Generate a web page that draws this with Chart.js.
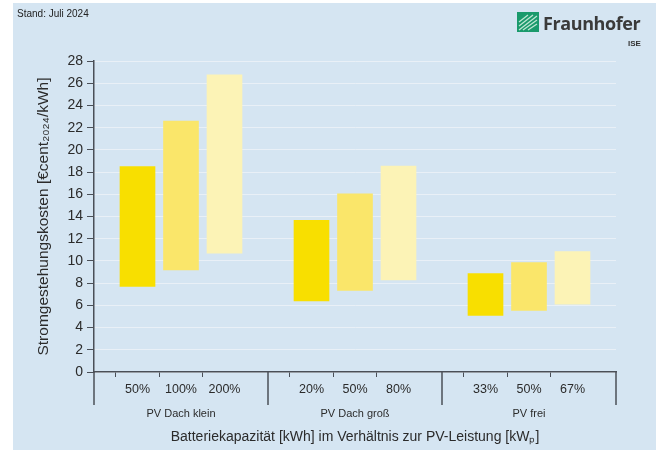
<!DOCTYPE html>
<html>
<head>
<meta charset="utf-8">
<script src="https://cdn.jsdelivr.net/npm/chart.js@4"></script>
<style>
  body { margin: 0; background: #fff; }
  #wrap { position: relative; width: 656px; height: 450px; font-family: "Liberation Sans", Arial, sans-serif; }
  #chart { display: block; }
  #stand { position: absolute; left: 17px; top: 8px; font-size: 10px; color: #222; }
  #logo { position: absolute; left: 517px; top: 12px; }
  #logo .name { position: absolute; left: 26px; top: -1px; font-size: 18px; font-weight: bold; color: #3a3a3a; font-family: "Open Sans", "Liberation Sans", sans-serif; letter-spacing: -0.4px; white-space: nowrap; }
  #logo .ise { position: absolute; left: 111px; top: 27px; font-size: 8px; font-weight: bold; color: #333; }
</style>
</head>
<body>
<div id="wrap">
  <canvas id="chart" width="656" height="450"></canvas>
  <div id="stand">Stand: Juli 2024</div>
  <div id="logo">
    <svg width="22" height="20" viewBox="0 0 22 20">
      <rect x="0" y="0" width="22" height="20" fill="#1a9a6c"/>
      <path d="M2 18 L20 4 M2 14 L16 3 M2 10 L11 3 M6 18 L20 8 M11 18 L20 12" stroke="#bfe6d3" stroke-width="1.3" fill="none"/>
    </svg>
    <span class="name">Fraunhofer</span>
    <span class="ise">ISE</span>
  </div>
</div>
<script>
// Gruppen und Batterie-Verhältnisse
const groups = ['PV Dach klein', 'PV Dach groß', 'PV frei'];
const shares = [
    ['50%', '100%', '200%'],
    ['20%', '50%', '80%'],
    ['33%', '50%', '67%'],
];
// Stromgestehungskosten (min / max) in €cent2024/kWh
const costMin = [
    [7.7, 9.2, 10.7],
    [6.4, 7.35, 8.3],
    [5.1, 5.55, 6.1],
];
const costMax = [
    [18.5, 22.6, 26.75],
    [13.65, 16.05, 18.55],
    [8.85, 9.85, 10.85],
];
const barColors = ['#f8df00', '#fae66a', '#fcf3b6'];
const yTicks = [0, 28, 2]; // min, max, Schritt

// Kategorien mit leeren Plätzen als Trenner zwischen den Gruppen
const labels = [];
const values = [];
const colors = [];
groups.forEach((g, gi) => {
    labels.push('');
    values.push(null);
    colors.push('transparent');
    shares[gi].forEach((s, si) => {
        labels.push(s);
        values.push([costMin[gi][si], costMax[gi][si]]);
        colors.push(barColors[si]);
    });
});
labels.push('');
values.push(null);
colors.push('transparent');

const axisColor = '#4a4f57';
const textColor = '#2b2b2b';

// Hintergrund und Gruppentrenner
const decoPlugin = {
    id: 'deco',
    beforeDraw(chart) {
        const c = chart.ctx;
        c.save();
        c.fillStyle = '#d5e5f2';
        c.fillRect(13, 3, chart.width - 13, chart.height - 3);
        c.restore();
    },
    afterDraw(chart) {
        const c = chart.ctx;
        const x = chart.scales.x;
        const bottom = chart.chartArea.bottom;
        c.save();
        c.strokeStyle = axisColor;
        c.lineWidth = 1.5;
        labels.forEach((l, i) => {
            if (l !== '') return;
            const px = x.getPixelForTick(i);
            c.beginPath();
            c.moveTo(px, bottom);
            c.lineTo(px, bottom + 33);
            c.stroke();
        });
        c.restore();
    }
};

const ctx = document.getElementById('chart').getContext('2d');
new Chart(ctx, {
    type: 'bar',
    data: {
        labels: labels,
        datasets: [{
            data: values,
            backgroundColor: colors,
            borderWidth: 0,
            barThickness: 35,
        }]
    },
    options: {
        responsive: false,
        animation: false,
        layout: { padding: { top: 61, right: 40, left: 34, bottom: 4 } },
        plugins: {
            legend: { display: false },
            tooltip: { enabled: false },
        },
        scales: {
            y: {
                min: yTicks[0],
                max: yTicks[1],
                ticks: {
                    stepSize: yTicks[2],
                    color: textColor,
                    font: { family: 'Liberation Sans', size: 14 },
                    padding: 4,
                },
                grid: {
                    color: '#e9f0f7',
                    lineWidth: 1,
                    tickColor: axisColor,
                    tickLength: 7,
                },
                border: { display: true, color: axisColor, width: 1.5 },
                title: {
                    display: true,
                    text: 'Stromgestehungskosten [€cent₂₀₂₄/kWh]',
                    color: textColor,
                    font: { family: 'Liberation Sans', size: 15.5 },
                    padding: { top: 0, bottom: 6 },
                },
                afterFit(scale) { scale.width = 60; },
            },
            x: {
                offset: false,
                ticks: {
                    color: textColor,
                    font: { family: 'Liberation Sans', size: 12.5 },
                    autoSkip: false,
                    maxRotation: 0,
                    padding: 5,
                },
                grid: {
                    drawOnChartArea: false,
                    tickLength: 5,
                    tickColor: (c) => (c.tick && c.tick.label === '') ? 'transparent' : axisColor,
                },
                border: { display: true, color: axisColor, width: 1.5 },
                afterFit(scale) { scale.height = 26; },
            },
            x2: {
                type: 'category',
                position: 'bottom',
                labels: groups,
                offset: true,
                grid: { display: false },
                border: { display: false },
                ticks: {
                    color: textColor,
                    font: { family: 'Liberation Sans', size: 11 },
                    padding: 1,
                },
                title: {
                    display: true,
                    text: 'Batteriekapazität [kWh] im Verhältnis zur PV-Leistung [kWₚ]',
                    color: textColor,
                    font: { family: 'Liberation Sans', size: 14 },
                    padding: { top: 8, bottom: 0 },
                },
            },
        }
    },
    plugins: [decoPlugin]
});
</script>
</body>
</html>
